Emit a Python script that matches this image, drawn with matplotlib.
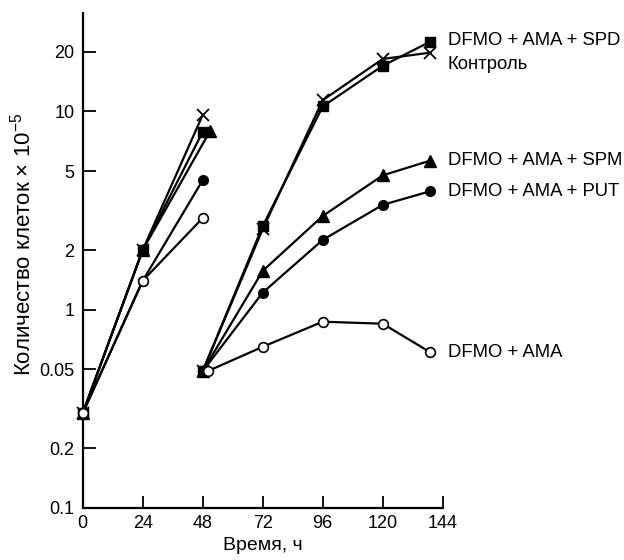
import matplotlib
matplotlib.use("Agg")
import matplotlib.pyplot as plt

plt.rcParams['font.family'] = ['Liberation Sans', 'DejaVu Sans']
plt.rcParams['mathtext.fontset'] = 'custom'
plt.rcParams['mathtext.rm'] = 'Liberation Sans'

# левая серия (0-48 ч)
hours_a = [0, 24, 48]
hours_a_spm = [0, 24, 51]
ctrl_a = [0.3, 2.0, 9.6]
spd_a = [0.3, 2.0, 7.9]
spm_a = [0.3, 2.0, 8.0]
put_a = [0.3, 1.4, 4.5]
ama_a = [0.3, 1.4, 2.9]

# правая серия (от 48 ч)
hours_b = [48, 72, 96, 120, 139]
hours_b_ama = [50, 72, 96, 120, 139]
ctrl_b = [0.49, 2.55, 11.4, 18.4, 19.8]
spd_b = [0.49, 2.64, 10.6, 17.0, 22.5]
spm_b = [0.49, 1.57, 2.97, 4.76, 5.65]
put_b = [0.49, 1.22, 2.25, 3.38, 3.96]
ama_b = [0.49, 0.65, 0.87, 0.85, 0.61]

labels = ['DFMO + AMA + SPD', 'Контроль', 'DFMO + AMA + SPM', 'DFMO + AMA + PUT', 'DFMO + AMA']
label_y = [22.8, 17.3, 5.65, 3.96, 0.61]

y_ticks = [0.1, 0.2, 0.5, 1, 2, 5, 10, 20]
y_ticklabels = ['0.1', '0.2', '0.05', '1', '2', '5', '10', '20']
x_ticks = [0, 24, 48, 72, 96, 120, 144]

fig = plt.figure(figsize=(6.24, 5.6), dpi=100)
ax = fig.add_axes([0.1325, 0.0929, 0.577, 0.884])

kw = dict(color='black', lw=1.6, clip_on=False)

# левая группа
ax.plot(hours_a_spm, spm_a, marker='^', ms=8, mfc='black', mec='black', zorder=3, **kw)
ax.plot(hours_a, put_a, marker='o', ms=7, mfc='black', mec='black', zorder=3, **kw)
ax.plot(hours_a, ctrl_a, marker='x', ms=9, mew=1.3, zorder=4, **kw)
ax.plot(hours_a, spd_a, marker='s', ms=7, mfc='black', mec='black', zorder=4, **kw)
ax.plot(hours_a, ama_a, marker='o', ms=7, mfc='white', mec='black', mew=1.2, zorder=5, **kw)

# правая группа
ax.plot(hours_b, spm_b, marker='^', ms=8, mfc='black', mec='black', zorder=3, **kw)
ax.plot(hours_b, put_b, marker='o', ms=7, mfc='black', mec='black', zorder=4, **kw)
ax.plot(hours_b, ctrl_b, marker='x', ms=9, mew=1.3, zorder=3, **kw)
ax.plot(hours_b, spd_b, marker='s', ms=7, mfc='black', mec='black', zorder=3, **kw)
ax.plot(hours_b_ama, ama_b, marker='o', ms=7, mfc='white', mec='black', mew=1.2, zorder=5, **kw)

for lab, yv in zip(labels, label_y):
    ax.text(146, yv, lab, fontsize=13.3, va='center', ha='left')

ax.set_yscale('log')
ax.set_ylim(0.1, 31.4)
ax.set_xlim(0, 144)
ax.set_yticks(y_ticks)
ax.set_yticklabels(y_ticklabels)
ax.minorticks_off()
ax.set_xticks(x_ticks)
ax.tick_params(direction='in', length=9, width=1.3, labelsize=13, colors='black')
ax.tick_params(axis='y', pad=6)
ax.tick_params(axis='x', pad=5)

for s in ['top', 'right']:
    ax.spines[s].set_visible(False)
for s in ['left', 'bottom']:
    ax.spines[s].set_linewidth(1.6)

ax.set_xlabel('Время, ч', fontsize=14, labelpad=4)
fig.text(23 / 624, 1 - 244 / 560, 'Количество клеток × 10$^{-5}$', fontsize=16,
         rotation=90, ha='center', va='center')

fig.savefig('out.png', dpi=100)
